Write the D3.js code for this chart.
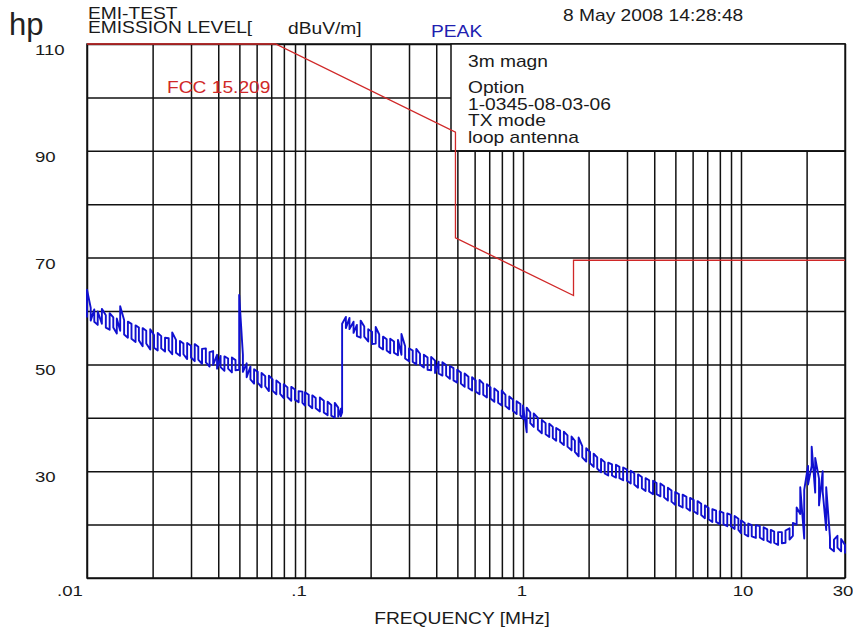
<!DOCTYPE html>
<html>
<head>
<meta charset="utf-8">
<script src="https://cdn.jsdelivr.net/npm/d3@7"></script>
<style>
  body { margin: 0; background: #fff; }
  text { font-family: "Liberation Sans", Arial, sans-serif; }
</style>
</head>
<body>
<script>

// y labels shown on the left (dBuV/m)
var yTickLabels = [110, 90, 70, 50, 30]

// frequency labels under the plot (MHz)
var xTickValues = [0.01, 0.1, 1, 10, 30]
var xTickLabels = ['.01', '.1', '1', '10', '30']

// text in the info box
var infoLines = ['3m magn', 'Option', '1-0345-08-03-06', 'TX mode', 'loop antenna']

// FCC 15.209 limit line, extrapolated to 3m
var limitFreq  = [0.01, 0.0733, 0.49, 0.49, 1.705, 1.705, 30]
var limitLevel = [110,  110,    93.5, 73.7, 62.9,  69.5,  69.5]

// peak trace: [MHz, low dB, high dB] per sample column
var peakTrace = [
  [0.0100,58.8,64.0],[0.0104,58.2,60.6],[0.0108,58.0,60.3],[0.0112,57.4,59.9],[0.0117,57.6,60.4],
  [0.0122,56.9,59.2],[0.0127,56.5,59.6],[0.0132,56.9,58.8],[0.0137,55.8,58.6],[0.0142,56.3,60.9],
  [0.0148,55.6,58.3],[0.0154,55.0,58.0],[0.0160,54.8,57.6],[0.0167,54.2,57.3],[0.0173,54.5,56.9],
  [0.0180,53.4,56.8],[0.0187,53.9,56.3],[0.0195,52.8,56.6],[0.0203,53.1,55.5],[0.0211,52.6,55.9],
  [0.0219,53.0,55.3],[0.0228,52.4,55.0],[0.0237,52.7,54.9],[0.0246,51.9,56.0],[0.0256,52.2,54.6],
  [0.0267,51.6,54.4],[0.0277,51.9,53.9],[0.0288,51.0,54.0],[0.0300,51.3,53.5],[0.0312,50.6,53.8],
  [0.0324,50.9,53.3],[0.0337,50.1,52.9],[0.0351,50.4,53.0],[0.0365,49.6,52.3],[0.0379,49.9,52.5],
  [0.0395,49.2,51.8],[0.0410,49.5,51.6],[0.0427,48.8,51.5],[0.0444,49.2,51.1],[0.0462,48.5,51.3],
  [0.0480,48.9,50.8],[0.0499,49.0,63.0],[0.0519,48.6,51.8],[0.0540,47.6,50.2],[0.0562,47.2,49.6],
  [0.0584,46.4,49.1],[0.0607,46.6,48.6],[0.0632,45.7,48.4],[0.0657,45.9,47.8],[0.0683,45.0,47.9],
  [0.0710,45.1,47.2],[0.0739,44.4,47.0],[0.0769,44.5,46.4],[0.0799,43.7,46.3],[0.0831,43.9,45.7],
  [0.0865,43.2,45.8],[0.0899,43.4,45.3],[0.0935,42.9,45.0],[0.0973,42.8,44.9],[0.100,42.3,44.8],
  [0.104,42.4,44.3],[0.108,41.8,44.2],[0.112,41.8,43.7],[0.117,41.2,43.8],[0.122,41.0,43.2],
  [0.127,40.5,43.0],[0.132,40.4,42.4],[0.137,40.0,42.8],[0.142,40.2,41.9],[0.146,40.3,41.7],
  [0.148,41.0,57.6],[0.154,56.8,58.9],[0.160,56.6,58.7],[0.167,55.9,58.0],[0.173,55.3,57.4],
  [0.180,55.0,58.2],[0.187,55.2,57.1],[0.195,54.3,56.6],[0.203,53.8,56.1],[0.211,53.9,57.0],
  [0.219,53.3,55.6],[0.228,52.8,55.2],[0.237,52.6,54.7],[0.246,52.1,54.8],[0.256,52.2,54.3],
  [0.267,51.7,54.6],[0.277,51.8,55.7],[0.288,51.1,53.4],[0.300,50.6,53.0],[0.312,50.5,52.6],
  [0.324,50.0,52.9],[0.337,50.0,52.0],[0.351,49.4,51.8],[0.365,49.0,51.3],[0.379,48.9,51.4],
  [0.395,48.4,50.7],[0.410,48.3,50.5],[0.427,47.9,50.4],[0.444,47.9,49.9],[0.462,47.3,49.7],
  [0.480,47.0,49.3],[0.499,46.6,49.0],[0.519,46.4,48.5],[0.540,45.8,48.3],[0.562,45.6,47.7],
  [0.584,45.1,47.6],[0.607,44.9,47.0],[0.632,44.4,47.1],[0.657,44.3,46.4],[0.683,43.8,46.3],
  [0.710,43.6,45.7],[0.739,43.0,45.5],[0.769,42.8,44.9],[0.799,42.3,45.1],[0.831,42.2,44.3],
  [0.865,41.6,44.0],[0.899,41.3,43.4],[0.935,40.7,43.1],[0.973,40.5,42.6],[1.00,39.8,42.3],
  [1.04,37.3,41.9],[1.08,39.0,41.0],[1.12,38.3,40.8],[1.17,37.8,40.0],[1.22,37.1,39.6],
  [1.27,36.9,39.0],[1.32,36.4,38.9],[1.37,36.2,38.3],[1.42,35.7,38.1],[1.48,35.5,37.6],
  [1.54,34.9,37.4],[1.60,34.6,36.7],[1.67,33.9,36.5],[1.73,33.6,35.7],[1.80,32.8,36.3],
  [1.87,32.6,34.7],[1.95,31.8,34.3],[2.03,31.5,33.6],[2.11,30.8,33.3],[2.19,30.5,32.6],
  [2.28,29.8,32.3],[2.37,29.6,31.7],[2.46,29.2,31.6],[2.56,29.2,31.3],[2.67,28.8,31.2],
  [2.77,28.7,30.8],[2.88,28.3,30.7],[3.00,28.2,30.3],[3.12,27.7,30.1],[3.24,27.5,29.6],
  [3.37,26.9,29.4],[3.51,26.8,28.9],[3.65,26.3,28.7],[3.79,26.2,28.3],[3.95,25.7,28.2],
  [4.10,25.7,27.8],[4.27,25.3,27.7],[4.44,25.1,27.2],[4.62,24.5,26.9],[4.80,24.3,26.4],
  [4.99,23.7,26.1],[5.19,23.6,25.7],[5.40,23.2,25.6],[5.62,23.1,25.2],[5.84,22.6,25.0],
  [6.07,22.5,24.6],[6.32,22.0,24.4],[6.57,21.8,23.9],[6.83,21.2,23.6],[7.10,21.0,23.1],
  [7.39,20.5,22.9],[7.69,20.5,22.6],[7.99,20.1,22.5],[8.31,20.1,22.2],[8.65,19.7,22.1],
  [8.99,19.7,21.8],[9.35,19.2,21.6],[9.73,19.0,21.1],[10.0,18.4,20.8],[10.4,18.2,20.3],
  [10.8,17.8,20.2],[11.2,17.8,19.9],[11.7,17.5,19.9],[12.2,17.6,19.7],[12.7,17.1,19.5],
  [13.2,17.0,19.1],[13.7,16.6,19.0],[14.2,16.6,18.7],[14.8,16.2,18.6],[15.4,16.5,18.6],
  [16.0,16.6,18.9],[16.7,17.2,19.3],[17.3,17.9,20.3],[18.0,20.0,23.2],[18.7,22.0,27.0],
  [19.5,17.4,26.5],[20.3,27.5,31.0],[21.1,31.0,34.6],[21.9,26.0,32.5],[22.8,23.6,28.6],
  [23.7,26.2,30.0],[24.6,19.0,27.0],[25.6,15.6,17.6],[26.7,15.0,17.2],[27.7,15.7,17.9],
  [28.8,15.0,17.3],[30.0,14.6,16.2]
]


var chart_config = {
    'width': 853,
    'height': 631,
    'plot': { 'left': 87, 'right': 845, 'top': 44, 'bottom': 578 },
    'grid_colour': '#111',
    'limit_colour': '#d02828',
    'trace_colour': '#1010d0',
    'text_colour': '#1a1a1a',
    'stretch': 1.2
}

var p = chart_config.plot

var svg = d3.select('body').append('svg')
.attr('width', chart_config.width)
.attr('height', chart_config.height)

svg.append('rect')
.attr('width', chart_config.width)
.attr('height', chart_config.height)
.style('fill', '#fff')

function addText(sel, str, x, y, size, colour, anchor) {
    return sel.append('text')
    .attr('transform', 'translate(' + x + ',' + y + ') scale(' + chart_config.stretch + ',1)')
    .attr('text-anchor', anchor || 'start')
    .style('font-size', size + 'px')
    .style('fill', colour)
    .text(str)
}

// scales
var xScale = d3.scaleLog()
.domain([0.01, 30])
.range([p.left, p.right])

var yScale = d3.scaleLinear()
.domain([10, 110])
.range([p.bottom, p.top])


// grid, drawn with axes and full-length ticks
svg.append('g')
.attr('transform', 'translate(0,' + p.bottom + ')')
.call(d3.axisBottom(xScale)
    .tickValues(xScale.ticks())
    .tickSize(-(p.bottom - p.top))
    .tickSizeOuter(0)
    .tickFormat(''))

svg.append('g')
.attr('transform', 'translate(' + p.left + ',0)')
.call(d3.axisLeft(yScale)
    .ticks(10)
    .tickSize(-(p.right - p.left))
    .tickSizeOuter(0)
    .tickFormat(''))

svg.selectAll('.domain').remove()
svg.selectAll('.tick line')
.style('stroke', chart_config.grid_colour)
.style('stroke-width', 1.5)

// frame
svg.append('rect')
.attr('x', p.left)
.attr('y', p.top)
.attr('width', p.right - p.left)
.attr('height', p.bottom - p.top)
.style('fill', 'none')
.style('stroke', chart_config.grid_colour)
.style('stroke-width', 1.5)


// info box covers the grid, top right
svg.append('rect')
.attr('x', 451)
.attr('y', yScale(110))
.attr('width', p.right - 451)
.attr('height', yScale(90) - yScale(110))
.style('fill', '#fff')
.style('stroke', chart_config.grid_colour)
.style('stroke-width', 1.5)

var infoY = [67, 93, 110, 126, 143]
infoLines.forEach(function(t, i) {
    addText(svg, t, 468, infoY[i], 16, chart_config.text_colour)
})


// limit line
var limitData = limitFreq.map(function(f, i) { return { 'f': f, 'db': limitLevel[i] } })

svg.append('path')
.datum(limitData)
.attr('d', d3.line()
    .x(d => xScale(d.f))
    .y(d => yScale(d.db)))
.style('fill', 'none')
.style('stroke', chart_config.limit_colour)
.style('stroke-width', 1.3)


// peak trace: each sample column is a vertical stroke; a column wider than the
// one before it is drawn upwards, otherwise downwards, so the zigzag is uneven
var tracePoints = []
peakTrace.forEach(function(d, i) {
    var prev = i > 0 ? peakTrace[i - 1] : d
    var up = (d[2] - d[1]) > (prev[2] - prev[1]) || i === 0
    if (up) {
        tracePoints.push([d[0], d[1]], [d[0], d[2]])
    } else {
        tracePoints.push([d[0], d[2]], [d[0], d[1]])
    }
})

svg.append('path')
.datum(tracePoints)
.attr('d', d3.line()
    .x(d => xScale(d[0]))
    .y(d => yScale(d[1])))
.style('fill', 'none')
.style('stroke', chart_config.trace_colour)
.style('stroke-width', 1.9)
.style('stroke-linejoin', 'round')


// header
svg.append('text')
.attr('x', 9)
.attr('y', 35)
.style('font-size', '31px')
.style('fill', '#222')
.text('hp')

addText(svg, 'EMI-TEST', 88, 19, 16, chart_config.text_colour)
addText(svg, 'EMISSION LEVEL[', 88, 33, 16, chart_config.text_colour)
addText(svg, 'dBuV/m]', 288, 34, 16, chart_config.text_colour)
addText(svg, 'PEAK', 431, 37, 16, '#2020b0')
addText(svg, '8 May 2008  14:28:48', 563, 21, 16, chart_config.text_colour)

addText(svg, 'FCC 15.209', 167, 93, 16, chart_config.limit_colour)

// y labels
yTickLabels.forEach(function(v) {
    addText(svg, String(v), 35, yScale(v) + 11, 15.5, chart_config.text_colour)
})

// x labels, nudged the way the analyser prints them
var xLabelShift = [-17, -6, -1, 2, -2]
xTickValues.forEach(function(v, i) {
    addText(svg, xTickLabels[i], xScale(v) + xLabelShift[i], 596, 15.5, chart_config.text_colour, 'middle')
})

addText(svg, 'FREQUENCY [MHz]', 462, 624, 16, chart_config.text_colour, 'middle')

</script>
</body>
</html>
